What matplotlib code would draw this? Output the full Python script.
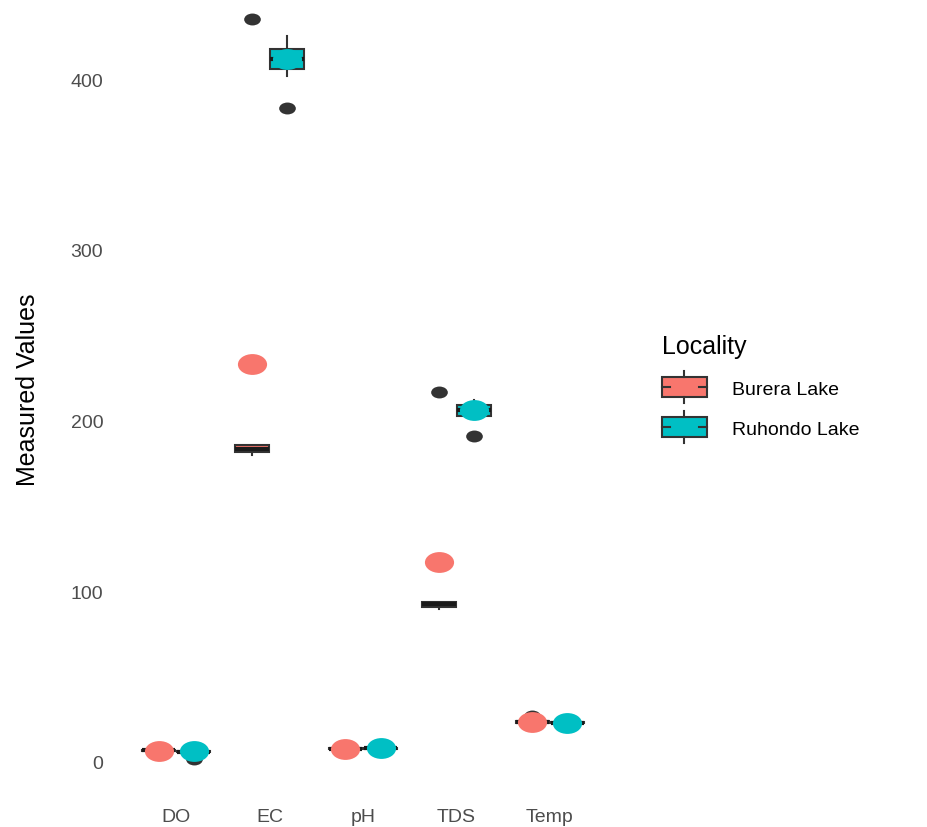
import matplotlib.pyplot as plt
import numpy as np
from matplotlib.path import Path
from matplotlib.transforms import Affine2D
from matplotlib.patches import Rectangle
from matplotlib.lines import Line2D
from matplotlib.legend_handler import HandlerBase

plt.rcParams['font.family'] = ['Liberation Sans', 'DejaVu Sans']

parameters = ["DO", "EC", "pH", "TDS", "Temp"]
localities = ["Burera Lake", "Ruhondo Lake"]
colors = ["#F8766D", "#00BFC4"]

# box summaries per parameter
burera_q1 = [6.4, 181.8, 7.4, 91.0, 23.0]
burera_med = [6.8, 183.5, 7.6, 92.5, 23.4]
burera_q3 = [7.1, 185.5, 7.9, 93.5, 23.8]
burera_lo = [6.1, 180.0, 7.2, 89.8, 22.6]
burera_hi = [7.4, 185.5, 8.1, 93.5, 24.3]
burera_out = [[], [435.0], [], [216.8], [26.8]]
burera_mean = [6.6, 233.3, 7.6, 117.4, 23.3]

ruhondo_q1 = [5.6, 406.0, 7.8, 202.7, 22.6]
ruhondo_med = [6.0, 412.0, 8.0, 206.0, 22.9]
ruhondo_q3 = [6.4, 417.7, 8.3, 209.0, 23.2]
ruhondo_lo = [5.3, 402.0, 7.6, 201.5, 22.3]
ruhondo_hi = [6.7, 425.3, 8.5, 212.2, 23.5]
ruhondo_out = [[1.8], [383.0], [], [191.0], []]
ruhondo_mean = [6.2, 412.0, 8.0, 206.0, 22.9]

groups = [
    (burera_q1, burera_med, burera_q3, burera_lo, burera_hi, burera_out, burera_mean),
    (ruhondo_q1, ruhondo_med, ruhondo_q3, ruhondo_lo, ruhondo_hi, ruhondo_out, ruhondo_mean),
]

# the picture is stretched sideways, so dots are ellipses
ell = Affine2D().scale(1.4, 1.0).transform_path(Path.unit_circle())

fig = plt.figure(figsize=(9.27, 8.28), dpi=100)
ax = fig.add_axes([120 / 927, (828 - 797.1) / 828, 486 / 927, 814.2 / 828])

x = np.arange(1, len(parameters) + 1)
offsets = [-0.1875, 0.1875]
edge = "#333333"

for (q1, med, q3, lo, hi, out, mean), col, off in zip(groups, colors, offsets):
    stats = []
    for i in range(len(parameters)):
        stats.append(dict(q1=q1[i], med=med[i], q3=q3[i], whislo=lo[i],
                          whishi=hi[i], fliers=out[i], label=parameters[i]))
    ax.bxp(stats, positions=x + off, widths=0.36, patch_artist=True,
           showcaps=False, manage_ticks=False,
           boxprops=dict(facecolor=col, edgecolor=edge, lw=1.5),
           whiskerprops=dict(color=edge, lw=1.5),
           medianprops=dict(color="#1a1a1a", lw=3),
           flierprops=dict(marker=ell, markerfacecolor=edge,
                           markeredgecolor="none", markersize=12))
    ax.plot(x + off, mean, linestyle="none", marker=ell, markersize=21,
            markerfacecolor=col, markeredgecolor="none", zorder=5)

ax.set_xlim(0.4, 5.6)
ax.set_ylim(-20, 457)
ax.set_xticks(x, parameters)
ax.set_yticks([0, 100, 200, 300, 400])
ax.tick_params(axis='both', length=0, labelsize=14, labelcolor="#4D4D4D")
ax.tick_params(axis='y', pad=12)
ax.tick_params(axis='x', pad=8.5)
for s in ax.spines.values():
    s.set_visible(False)

ax.set_ylabel("Measured Values", fontsize=18, color="black")
ax.yaxis.set_label_coords(-0.165, 0.5)


class BoxKey(HandlerBase):
    def create_artists(self, legend, orig_handle, xdescent, ydescent,
                       width, height, fontsize, trans):
        x0, y0 = -xdescent, -ydescent
        box = Rectangle((x0, y0), width, height,
                        facecolor=orig_handle.get_facecolor(),
                        edgecolor=edge, lw=1.5, transform=trans)
        cx = x0 + width / 2
        wl = height * 0.3
        top = Line2D([cx, cx], [y0 + height, y0 + height + wl], color=edge, lw=1.5, transform=trans)
        bot = Line2D([cx, cx], [y0 - wl, y0], color=edge, lw=1.5, transform=trans)
        stub = width * 0.18
        ml = Line2D([x0, x0 + stub], [y0 + height / 2] * 2, color=edge, lw=1.5, transform=trans)
        mr = Line2D([x0 + width - stub, x0 + width], [y0 + height / 2] * 2, color=edge, lw=1.5, transform=trans)
        return [box, top, bot, ml, mr]


handles = [Rectangle((0, 0), 1, 1, facecolor=c) for c in colors]
fig.legend(handles, localities, loc="upper left",
           bbox_to_anchor=(662 / 927, 1 - 335 / 828),
           frameon=False, title="Locality", fontsize=14, title_fontsize=18,
           alignment="left", handlelength=2.3, handleheight=1.2,
           handletextpad=1.3, labelspacing=1.0, borderpad=0, borderaxespad=0,
           handler_map={Rectangle: BoxKey()})

fig.savefig("out.png", dpi=100)
